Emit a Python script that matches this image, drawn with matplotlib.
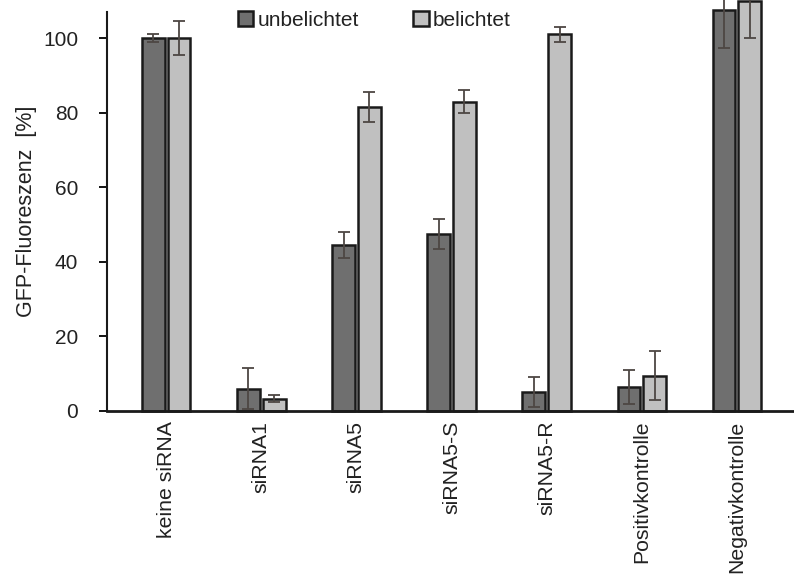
import matplotlib
matplotlib.use("Agg")
import matplotlib.pyplot as plt
import numpy as np

categories = ["keine siRNA", "siRNA1", "siRNA5", "siRNA5-S", "siRNA5-R",
              "Positivkontrolle", "Negativkontrolle"]
unbelichtet = [100, 6.0, 44.5, 47.5, 5.0, 6.5, 107.5]
unbelichtet_err = [1.0, 5.5, 3.5, 4.0, 4.0, 4.5, 10.0]
belichtet = [100, 3.3, 81.5, 83.0, 101.0, 9.5, 110.0]
belichtet_err = [4.5, 1.0, 4.0, 3.0, 2.0, 6.5, 10.0]
yticks = [0, 20, 40, 60, 80, 100]

plt.rcParams['font.family'] = ['Liberation Sans', 'DejaVu Sans']

fig = plt.figure(figsize=(7.94, 5.76), dpi=100)
ax = fig.add_axes([0.135, 0.2865, 0.865, 0.6925])

x = np.arange(len(categories))
w = 0.24
off = 0.135
dark = "#6f6f6f"
light = "#c0c0c0"
edge = "#1a1a1a"
ecol = "#4d4743"

ax.bar(x - off, unbelichtet, w, color=dark, edgecolor=edge, linewidth=1.8,
       label="unbelichtet", clip_on=False, zorder=2)
ax.bar(x + off, belichtet, w, color=light, edgecolor=edge, linewidth=1.8,
       label="belichtet", clip_on=False, zorder=2)
ax.errorbar(x - off, unbelichtet, yerr=unbelichtet_err, fmt="none", ecolor=ecol,
            elinewidth=1.3, capsize=4.5, capthick=1.3, clip_on=False, zorder=3)
ax.errorbar(x + off, belichtet, yerr=belichtet_err, fmt="none", ecolor=ecol,
            elinewidth=1.3, capsize=4.5, capthick=1.3, clip_on=False, zorder=3)

ax.set_xlim(-0.62, 6.6)
ax.set_ylim(0, 107)
ax.set_yticks(yticks)
ax.set_yticklabels([str(t) for t in yticks], fontsize=15, color="#222222")
ax.set_xticks(x)
ax.set_xticklabels(categories, rotation=90, fontsize=15.3, color="#222222")
ax.tick_params(axis="x", length=0, pad=7)
ax.tick_params(axis="y", direction="out", length=6, width=1.3, pad=15)
for s in ["top", "right"]:
    ax.spines[s].set_visible(False)
ax.spines["left"].set_linewidth(1.5)
ax.spines["bottom"].set_linewidth(2.0)
ax.spines["left"].set_color("#1a1a1a")
ax.spines["bottom"].set_color("#1a1a1a")

ax.set_ylabel("GFP-Fluoreszenz  [%]", fontsize=15.5, labelpad=4, color="#222222")

leg = ax.legend(loc="center", bbox_to_anchor=(0.389, 0.98), ncol=2, frameon=False,
                fontsize=15, handlelength=0.75, handleheight=0.75, handletextpad=0.2,
                columnspacing=2.6, borderpad=0, borderaxespad=0)
for t in leg.get_texts():
    t.set_color("#222222")

fig.savefig("out.png", dpi=100, facecolor="white")
